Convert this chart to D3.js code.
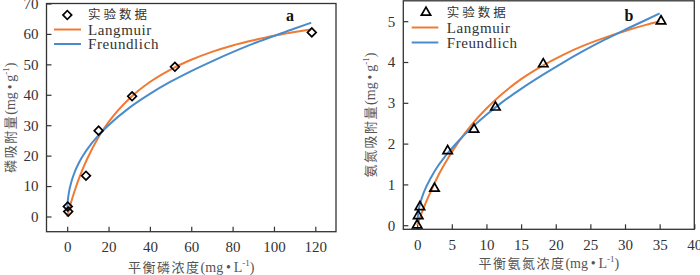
<!DOCTYPE html>
<html><head><meta charset="utf-8">
<script src="https://cdn.jsdelivr.net/npm/d3@7"></script>
<style>
body{margin:0;background:#fff;}
svg{display:block;}
</style></head>
<body><svg id="c" width="700" height="275"></svg>
<script>
// ---- Panel a: phosphorus ----
const aDataC = [0.3, 0.5, 9.1, 15.2, 31.4, 52.1, 118.3];
const aDataQ = [3.3, 1.6, 13.4, 28.2, 39.5, 49.2, 60.5];
const aLangC = [0, 1, 2, 4, 6, 8, 10, 15, 20, 30, 40, 50, 60, 70, 80, 90, 100, 110, 118];
const aLangQ = [0, 2.5, 4.9, 9.2, 13.0, 16.4, 19.4, 25.9, 31.0, 38.7, 44.2, 48.3, 51.5, 54.1, 56.2, 57.9, 59.4, 60.6, 61.5];
const aFreuC = [0.02, 0.2, 0.5, 1, 2, 4, 6, 8, 10, 15, 20, 30, 40, 50, 60, 70, 80, 90, 100, 110, 118];
const aFreuQ = [1.6, 4.3, 6.3, 8.5, 11.3, 15.2, 18.1, 20.4, 22.4, 26.6, 30.0, 35.7, 40.3, 44.3, 47.8, 51.0, 54.0, 56.8, 59.3, 61.8, 63.7];
const aXTicks = [0, 20, 40, 60, 80, 100, 120];
const aYTicks = [0, 10, 20, 30, 40, 50, 60, 70];

// ---- Panel b: ammonium nitrogen ----
const bDataC = [0, 0.15, 0.4, 2.5, 4.4, 8.2, 11.3, 18.2, 35.2];
const bDataQ = [0, 0.23, 0.45, 0.9, 1.82, 2.35, 2.89, 3.95, 5.0];
const bLangC = [0, 0.5, 1, 2, 3, 4, 6, 8, 10, 12, 15, 18, 21, 24, 27, 30, 33, 35];
const bLangQ = [0, 0.23, 0.45, 0.84, 1.2, 1.51, 2.05, 2.49, 2.86, 3.18, 3.58, 3.9, 4.17, 4.4, 4.59, 4.76, 4.91, 5.0];
const bFreuC = [0.01, 0.2, 0.5, 1, 2, 3, 4, 6, 8, 10, 12, 15, 18, 21, 24, 27, 30, 33, 35];
const bFreuQ = [0.075, 0.35, 0.57, 0.82, 1.17, 1.45, 1.68, 2.07, 2.41, 2.71, 2.98, 3.34, 3.67, 3.98, 4.27, 4.54, 4.79, 5.03, 5.19];
const bXTicks = [0, 5, 10, 15, 20, 25, 30, 35, 40];
const bYTicks = [0, 1, 2, 3, 4, 5];

const legendLabels = ["实验数据", "Langmuir", "Freundlich"];
const ORANGE = "#F07A33", BLUE = "#4A8CCB";
const SERIF = "'Liberation Serif','Times New Roman',Times,'DejaVu Serif',serif";
const CJK = "'Noto Sans CJK SC','Noto Sans CJK JP',sans-serif";

const svg = d3.select("#c");

function panel(cfg) {
  const g = svg.append("g");
  const x = d3.scaleLinear().domain(cfg.xDom).range([cfg.x0, cfg.x1]);
  const y = d3.scaleLinear().domain(cfg.yDom).range([cfg.y1, cfg.y0]);

  const fmt = d3.format("d");
  const xAxis = d3.axisBottom(x).tickValues(cfg.xTicks).tickFormat(fmt).tickSizeInner(-5).tickSizeOuter(0).tickPadding(10);
  const yAxis = d3.axisLeft(y).tickValues(cfg.yTicks).tickFormat(fmt).tickSizeInner(-5).tickSizeOuter(0).tickPadding(8);
  const gx = g.append("g").attr("transform", `translate(0,${cfg.y1})`).call(xAxis);
  const gy = g.append("g").attr("transform", `translate(${cfg.x0},0)`).call(yAxis);
  [gx, gy].forEach(a => {
    a.attr("font-family", null).attr("font-size", null);
    a.select(".domain").remove();
    a.selectAll(".tick line").attr("stroke", "#333").attr("stroke-width", 1.2);
    a.selectAll(".tick text").style("font-size", "15px").attr("fill", "#333")
      .style("font-family", SERIF);
  });

  g.append("rect").attr("x", cfg.x0).attr("y", cfg.y0)
    .attr("width", cfg.x1 - cfg.x0).attr("height", cfg.y1 - cfg.y0)
    .attr("fill", "none").attr("stroke", "#333").attr("stroke-width", 1.3);

  const line = d3.line().x(d => x(d[0])).y(d => y(d[1])).curve(d3.curveMonotoneX);
  g.append("path").datum(d3.zip(cfg.langC, cfg.langQ)).attr("d", line)
    .attr("fill", "none").attr("stroke", ORANGE).attr("stroke-width", 2);
  g.append("path").datum(d3.zip(cfg.freuC, cfg.freuQ)).attr("d", line)
    .attr("fill", "none").attr("stroke", BLUE).attr("stroke-width", 2);

  const sym = d3.symbol().type(cfg.symbol).size(cfg.symSize)();
  g.selectAll(".pt").data(d3.zip(cfg.dataC, cfg.dataQ)).join("path")
    .attr("d", sym)
    .attr("transform", d => `translate(${x(d[0])},${y(d[1])}) rotate(${cfg.rot})`)
    .attr("fill", "none").attr("stroke", "#000").attr("stroke-width", 1.7);

  const L = cfg.legend;
  g.append("path").attr("d", sym)
    .attr("transform", `translate(${L.mx},${L.y0}) rotate(${cfg.rot})`)
    .attr("fill", "none").attr("stroke", "#000").attr("stroke-width", 1.7);
  [ORANGE, BLUE].forEach((c, i) => {
    g.append("line").attr("x1", L.lx0).attr("x2", L.lx1)
      .attr("y1", L.y0 + (i + 1) * L.dy).attr("y2", L.y0 + (i + 1) * L.dy)
      .attr("stroke", c).attr("stroke-width", 2);
  });
  legendLabels.forEach((t, i) => {
    g.append("text").attr("x", L.tx).attr("y", L.y0 + i * L.dy).attr("dy", "0.35em")
      .style("font-size", i === 0 ? "12.5px" : "15px").attr("fill", "#333")
      .attr("letter-spacing", i === 0 ? 3 : 0.6)
      .style("font-family", i === 0 ? CJK : SERIF)
      .text(t);
  });

  g.append("text").attr("x", cfg.letter[0]).attr("y", cfg.letter[1]).attr("dy", "0.35em")
    .attr("text-anchor", "middle").style("font-size", "16px").attr("font-weight", "bold")
    .style("font-family", SERIF).attr("fill", "#111").text(cfg.letterText);

  const xt = g.append("text").attr("x", (cfg.x0 + cfg.x1) / 2).attr("y", cfg.y1 + cfg.xTitleDy)
    .attr("text-anchor", "middle").style("font-size", "14px").attr("fill", "#555")
    .style("font-family", SERIF);
  xt.append("tspan").style("font-family", CJK).style("font-size", "13px").attr("letter-spacing", 1.5).text(cfg.xTitle);
  xt.append("tspan").text("(mg\u2009•\u2009L");
  xt.append("tspan").style("font-size", "9px").attr("dy", -6).text("-1");
  xt.append("tspan").attr("dy", 6).text(")");

  const cy = (cfg.y0 + cfg.y1) / 2;
  const yt = g.append("text").attr("transform", `translate(${cfg.yTitleX},${cy}) rotate(-90)`)
    .attr("text-anchor", "middle").attr("dy", "0.35em").style("font-size", "14px").attr("fill", "#555")
    .style("font-family", SERIF);
  yt.append("tspan").style("font-family", CJK).style("font-size", "13px").attr("letter-spacing", 1.5).text(cfg.yTitle);
  yt.append("tspan").text("(mg\u2009•\u2009g");
  yt.append("tspan").style("font-size", "9px").attr("dy", -6).text("-1");
  yt.append("tspan").attr("dy", 6).text(")");
}

panel({
  xDom: [-10, 130], yDom: [-5, 70], x0: 46.5, x1: 336, y0: 3.5, y1: 231.7,
  xTicks: aXTicks, yTicks: aYTicks,
  dataC: aDataC, dataQ: aDataQ, langC: aLangC, langQ: aLangQ, freuC: aFreuC, freuQ: aFreuQ,
  symbol: d3.symbolSquare, symSize: 38, rot: 45,
  legend: { mx: 67.3, lx0: 54, lx1: 81, tx: 88, y0: 15, dy: 14.5 },
  letter: [290, 15], letterText: "a",
  xTitle: "平衡磷浓度", yTitle: "磷吸附量", yTitleX: 10, xTitleDy: 40
});

panel({
  xDom: [-2, 40], yDom: [-0.1, 5.5], x0: 403.3, x1: 694.3, y0: 0.8, y1: 229.3,
  xTicks: bXTicks, yTicks: bYTicks,
  dataC: bDataC, dataQ: bDataQ, langC: bLangC, langQ: bLangQ, freuC: bFreuC, freuQ: bFreuQ,
  symbol: d3.symbolTriangle, symSize: 38, rot: 0,
  legend: { mx: 426, lx0: 411.7, lx1: 438.3, tx: 446.7, y0: 12.5, dy: 15 },
  letter: [629, 15], letterText: "b",
  xTitle: "平衡氨氮浓度", yTitle: "氨氮吸附量", yTitleX: 370.5, xTitleDy: 39
});
</script></body></html>
